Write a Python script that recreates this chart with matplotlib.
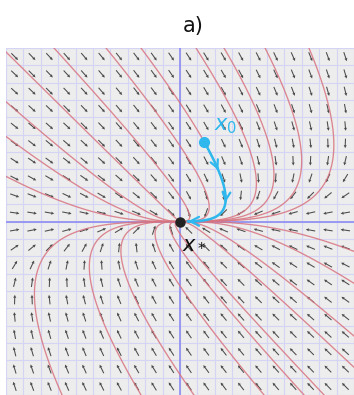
import numpy as np
import matplotlib
matplotlib.use("Agg")
import matplotlib.pyplot as plt

# Linear system  x' = A x
A = np.array([[-1.0, 2.0],
              [0.0, -3.0]])

# Window and grid
lim = 10
grid_step = 1.0

# Starting points of the sample trajectories (red)
top_x = [-7.24, -4.25, -2.24, 0.92, 2.53, 4.89, 7.41]       # on y = 10
left_y = [9.77, 6.9, 4.9, 2.6]                                # on x = -10
bottom_x = [-6.78, -2.24, 0.8, 4.83, 7.13, 8.28]             # on y = -10
right_y = [-1.72, -3.56, -6.6, -8.4]                          # on x = 10

# Highlighted trajectory from x0 to the equilibrium x*
x0 = (1.38, 4.6)
x_star = (0.0, 0.0)

# Eigen-decomposition for the exact flow e^{At}
lam, V = np.linalg.eig(A)
Vinv = np.linalg.inv(V)


def flow(p, t):
    p = np.asarray(p, float)
    c = Vinv @ p
    E = np.exp(np.outer(t, lam))          # (n, 2)
    return (E * c) @ V.T                 # (n, 2)


fig = plt.figure(figsize=(3.54, 3.95), dpi=100)
ax = fig.add_axes([6 / 354, 0.0, 348 / 354, 347 / 395])
ax.set_xlim(-lim, lim)
ax.set_ylim(-lim, lim)
ax.set_facecolor("#ededed")
for s in ax.spines.values():
    s.set_visible(False)
ax.set_xticks([])
ax.set_yticks([])

# light grid
ticks = np.arange(-lim, lim + grid_step / 2, grid_step)
for v in ticks:
    ax.axvline(v, color="#d4d4f4", lw=0.8, zorder=1)
    ax.axhline(v, color="#d4d4f4", lw=0.8, zorder=1)

# coordinate axes
ax.axvline(0, color="#8c8cf0", lw=1.2, zorder=2)
ax.axhline(0, color="#8c8cf0", lw=1.2, zorder=2)

# direction field at cell centres
c = np.arange(-lim + grid_step / 2, lim, grid_step)
X, Y = np.meshgrid(c, c)
U = A[0, 0] * X + A[0, 1] * Y
W = A[1, 0] * X + A[1, 1] * Y
N = np.hypot(U, W)
ax.quiver(X, Y, U / N, W / N, pivot="mid", angles="xy",
          scale_units="xy", scale=1 / 0.55, width=0.0030,
          headwidth=3.0, headlength=3.0, headaxislength=2.7,
          color="#4a4a4a", zorder=3)

# red trajectories
starts = ([(x, lim) for x in top_x] + [(-lim, y) for y in left_y] +
          [(x, -lim) for x in bottom_x] + [(lim, y) for y in right_y])
t = np.concatenate([np.linspace(-1.5, 3, 1500), np.linspace(3, 16, 800)])
for p in starts:
    P = flow(p, t)
    ax.plot(P[:, 0], P[:, 1], color="#d8737f", lw=0.95, alpha=0.85,
            zorder=4, solid_capstyle="round")

# highlighted trajectory
blue = "#2fb8ee"
tb = np.linspace(0, 2.6, 600)
B = flow(x0, tb)
ax.plot(B[:, 0], B[:, 1], color=blue, lw=1.8, zorder=6,
        solid_capstyle="round")
for ti in (0.12, 0.45):
    i = int(np.searchsorted(tb, ti))
    ax.annotate("", xy=B[i + 6], xytext=B[i],
                arrowprops=dict(arrowstyle="->", color=blue, lw=1.6,
                                mutation_scale=14), zorder=6)
ax.annotate("", xy=B[-1], xytext=B[-8],
            arrowprops=dict(arrowstyle="->", color=blue, lw=1.6,
                            mutation_scale=16), zorder=6)
ax.plot([x0[0]], [x0[1]], "o", color=blue, ms=7, zorder=7)

# equilibrium
ax.plot([x_star[0]], [x_star[1]], "o", color="#222222", ms=6.5, zorder=7)

# labels
ax.text(x0[0] + 0.55, x0[1] + 0.35, r"$x_0$", color=blue, fontsize=15,
        zorder=8, va="bottom", ha="left")
ax.text(x_star[0] + 0.1, x_star[1] - 0.6, r"$x_*$", color="#111111",
        fontsize=15, zorder=8, va="top", ha="left")
fig.text(193 / 354, 1 - 26 / 395, "a)", fontsize=15, ha="center",
         va="center", color="#111111")

fig.savefig("out.png", dpi=100)
